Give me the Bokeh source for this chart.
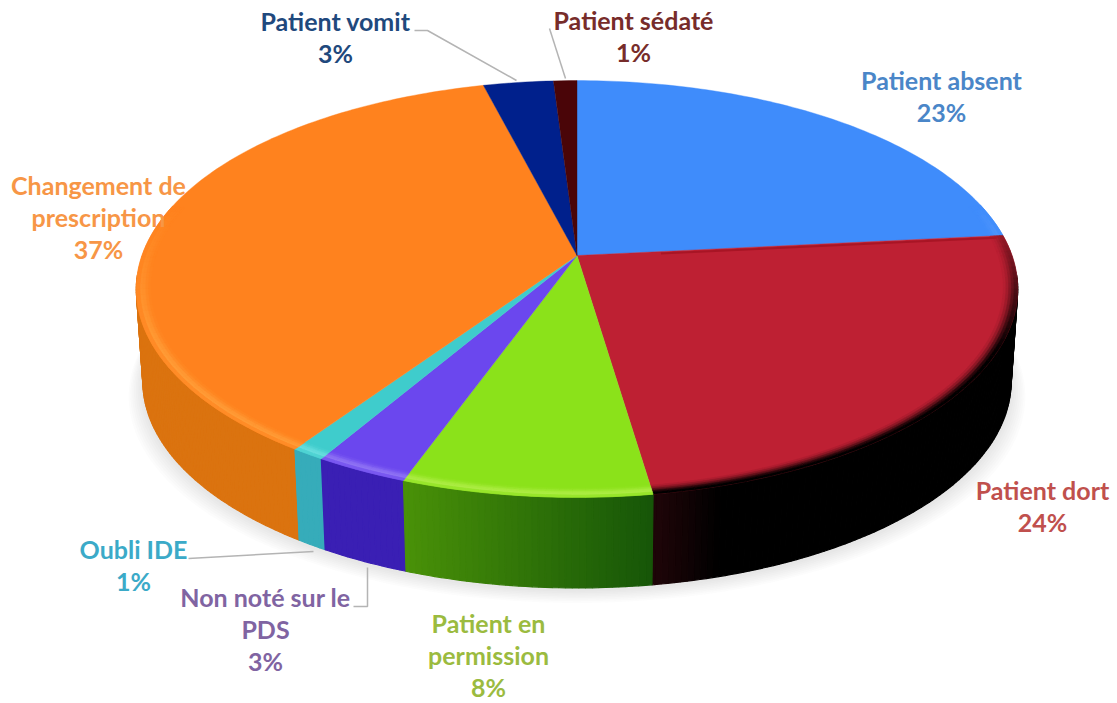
import math
from bokeh.plotting import figure
from bokeh.models import Range1d
from bokeh.embed import file_html
from bokeh.resources import INLINE
from bokeh.core.properties import value

# ---- data
categories = ["Patient absent", "Patient dort", "Patient en permission", "Non noté sur le PDS",
              "Oubli IDE", "Changement de prescription", "Patient vomit", "Patient sédaté"]
values = [23.4, 24.25, 7.85, 2.95, 1.05, 36.5, 3.0, 1.0]
percent_labels = ["23%", "24%", "8%", "3%", "1%", "37%", "3%", "1%"]
label_lines = [["Patient absent"], ["Patient dort"], ["Patient en", "permission"],
               ["Non noté sur le", "PDS"], ["Oubli IDE"], ["Changement de", "prescription"],
               ["Patient vomit"], ["Patient sédaté"]]

# ---- styles
top_colors = ["#3F8CFB", "#BE2033", "#8BE21A", "#6B47EE", "#3FCCCC", "#FF821E", "#00208C", "#4A0508"]
side_colors = ["#3F8CFB", "#BE2033", "#4A9208", "#3A1FB4", "#36ACBA", "#DB730F", "#00208C", "#4A0508"]
side_dark = ["#000000", "#000000", "#003C08", "#000000", "#000000", "#000000", "#000000", "#000000"]
bevel_dark = [False, True, False, False, False, False, False, False]
bevel_light = ["#FFFFFF", "#000000", "#E8FF90", "#D0C0FF", "#B0FFFF", "#FFC860", "#FFFFFF", "#FFFFFF"]
text_colors = ["#4A86C8", "#C0504D", "#9BBB3F", "#8064A2", "#3BAAC8", "#F79646", "#1F497D", "#772C2A"]
label_xy = [(941, 79), (1042, 489), (488, 622), (265, 596), (133, 548), (98, 184), (335, 20), (633, 19)]
LINE_H = 32
leaders = [([414, 427, 516], [30, 30, 80]), ([549, 565], [28, 78]),
           ([188, 313], [558, 551]), ([353, 367, 367], [606, 606, 567])]

CX, CY, A, B, K = 576.5, 255.0, 435.0, 203.0, 0.1606
DEPTH = 93.0


def proj(theta, r=1.0):
    u, v = r * math.sin(theta), r * math.cos(theta)
    d = 1 + K * v
    return CX + A * u / d, CY - B * v / d


def proj_low(theta):
    u, v = math.sin(theta), math.cos(theta)
    d = 1 + K * v
    return CX + 0.985 * A * u / d, CY + DEPTH - 0.99 * B * v / d


def hex2rgb(c):
    return tuple(int(c[i:i + 2], 16) for i in (1, 3, 5))


def mix(c, t, a):
    return "#%02x%02x%02x" % tuple(int(round(x + (y - x) * a)) for x, y in zip(c, t))


p = figure(width=1117, height=703, output_backend="svg", toolbar_location=None,
           x_range=Range1d(0, 1117), y_range=Range1d(703, 0), min_border=0,
           outline_line_color=None, background_fill_color="white",
           border_fill_color="white", x_axis_location=None, y_axis_location=None)
p.grid.visible = False

edges = [0.0]
for val in values:
    edges.append(edges[-1] + val / sum(values) * 2 * math.pi)

# soft shadow below the disc
N = 180
for i in range(8, 0, -1):
    g = i * 1.8
    xs, ys = [], []
    for j in range(N):
        th = j / N * 2 * math.pi
        x, y = proj_low(th)
        xs.append(CX + (x - CX) * (1 + g / 440))
        ys.append(y + 2 + g * 0.9)
    p.patch(xs, ys, fill_color="#5A6470", fill_alpha=0.02, line_color=None)

# side wall (front part only; the back is hidden by the top face)
STEP = math.radians(0.75)
quads = []
for k in range(len(values)):
    th = edges[k]
    while th < edges[k + 1] - 1e-9:
        th2 = min(th + STEP, edges[k + 1])
        tm = (th + th2) / 2
        t1, t2 = th, th2
        th = th2
        if math.cos(tm) > -0.1:
            continue
        x1, y1 = proj(t1)
        x2, y2 = proj(t2)
        x3, y3 = proj_low(t2)
        x4, y4 = proj_low(t1)
        xm = (x1 + x2) / 2
        shade = max(0.0, min(1.0, (760 - xm) / 360))
        if k == 1:
            shade = max(0.0, min(0.16, (720 - xm) / 400))
        quads.append((-math.cos(tm), [x1, x2, x3, x4], [y1, y2, y3, y4],
                      mix(hex2rgb(side_colors[k]), hex2rgb(side_dark[k]), 1 - shade)))
quads.sort(key=lambda q: q[0])
p.patches([q[1] for q in quads], [q[2] for q in quads], fill_color=[q[3] for q in quads],
          line_color=[q[3] for q in quads], line_width=1.2)

# top face
for k in range(len(values)):
    n = max(2, int((edges[k + 1] - edges[k]) / math.radians(1)))
    pts = [proj(edges[k] + (edges[k + 1] - edges[k]) * j / n) for j in range(n + 1)]
    p.patch([CX] + [q[0] for q in pts], [CY] + [q[1] for q in pts], fill_color=top_colors[k],
            line_color=top_colors[k], line_width=0.4)

# bevel round the rim of the top face
bands = [0.968, 0.974, 0.980, 0.986, 0.992, 1.0]
strength_light = [0.05, 0.16, 0.30, 0.36, 0.14]
strength_dark = [0.08, 0.25, 0.5, 0.8, 1.0]
BSTEP = math.radians(1.5)
bx, by, bc = [], [], []
for k in range(len(values)):
    th = edges[k]
    while th < edges[k + 1] - 1e-9:
        th2 = min(th + BSTEP, edges[k + 1])
        tm = (th + th2) / 2
        w = max(0.0, min(1.0, (0.25 - math.cos(tm)) / 0.7))
        if w > 0:
            for b in range(5):
                r1, r2 = bands[b], bands[b + 1]
                a1, a2 = proj(th, r1), proj(th2, r1)
                a3, a4 = proj(th2, r2), proj(th, r2)
                base = hex2rgb(top_colors[k])
                if bevel_dark[k]:
                    col = mix(base, (0, 0, 0), strength_dark[b] * w)
                else:
                    col = mix(base, hex2rgb(bevel_light[k]), strength_light[b] * w)
                bx.append([a1[0], a2[0], a3[0], a4[0]])
                by.append([a1[1], a2[1], a3[1], a4[1]])
                bc.append(col)
        th = th2
p.patches(bx, by, fill_color=bc, line_color=bc, line_width=0.6)

# darker seam under the blue/red border
e0 = proj(edges[1], 0.985)
p.line([CX + (e0[0] - CX) * 0.2, e0[0]], [CY + (e0[1] - CY) * 0.2 + 2, e0[1] + 2],
       line_color="#A81525", line_width=2)

# leader lines
for xs, ys in leaders:
    p.line(xs, ys, line_color="#B4B4B4", line_width=1.5)

# labels
for k in range(len(categories)):
    lines = label_lines[k] + [percent_labels[k]]
    x0, y0 = label_xy[k]
    for i, t in enumerate(lines):
        p.text([x0], [y0 + i * LINE_H], text=[t], text_align="center", text_baseline="middle",
               text_color=text_colors[k], text_font=value("Lato"), text_font_style="bold",
               text_font_size="25px")

open("out.html", "w").write(file_html(p, INLINE))
